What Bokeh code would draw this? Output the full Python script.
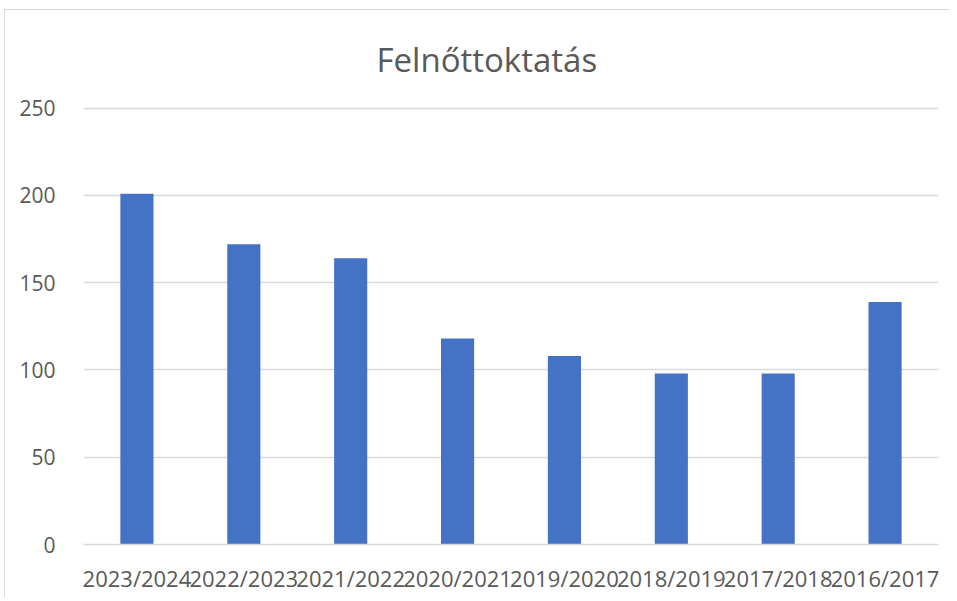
from bokeh.plotting import figure
from bokeh.models import FactorRange, Range1d, ColumnDataSource, FixedTicker
from bokeh.embed import file_html
from bokeh.resources import INLINE

categories = ["2023/2024", "2022/2023", "2021/2022", "2020/2021",
              "2019/2020", "2018/2019", "2017/2018", "2016/2017"]
values = [201, 172, 164, 118, 108, 98, 98, 139]
y_ticks = [0, 50, 100, 150, 200, 250]
title_text = "Felnőttoktatás"

FONT = "Open Sans"
TXT = "#595959"
GRID = "#d9d9d9"

src = ColumnDataSource(dict(cat=categories, val=values))

p = figure(width=945, height=588, x_range=FactorRange(*categories, range_padding=0),
           y_range=Range1d(0, 251), output_backend="svg", toolbar_location=None,
           min_border_left=78, min_border_right=12, min_border_top=96, min_border_bottom=54,
           styles={"margin-left": "4px", "margin-top": "9px",
                   "border-left": "1px solid #d9d9d9", "border-top": "1px solid #d9d9d9"})

p.vbar(x="cat", top="val", width=0.31, source=src, color="#4472C4", line_color=None)

p.title.text = title_text
p.title.align = "left"
p.title.text_font = FONT
p.title.text_font_size = "33px"
p.title.text_font_style = "normal"
p.title.text_color = TXT
p.title.offset = 293
p.title.standoff = 49

p.outline_line_color = None
p.xgrid.grid_line_color = None
p.ygrid.grid_line_color = GRID
p.ygrid.grid_line_width = 1.5
p.yaxis.ticker = FixedTicker(ticks=y_ticks)

p.yaxis.axis_line_color = None
p.yaxis.major_tick_line_color = None
p.yaxis.minor_tick_line_color = None
p.yaxis.major_label_text_font = FONT
p.yaxis.major_label_text_font_size = "21px"
p.yaxis.major_label_text_color = TXT
p.yaxis.major_label_standoff = 22

p.xaxis.axis_line_color = GRID
p.xaxis.axis_line_width = 1.5
p.xaxis.major_tick_line_color = None
p.xaxis.minor_tick_line_color = None
p.xaxis.major_label_text_font = FONT
p.xaxis.major_label_text_font_size = "22px"
p.xaxis.major_label_text_color = TXT
p.xaxis.major_label_standoff = 12

open("out.html", "w").write(file_html(p, INLINE))
